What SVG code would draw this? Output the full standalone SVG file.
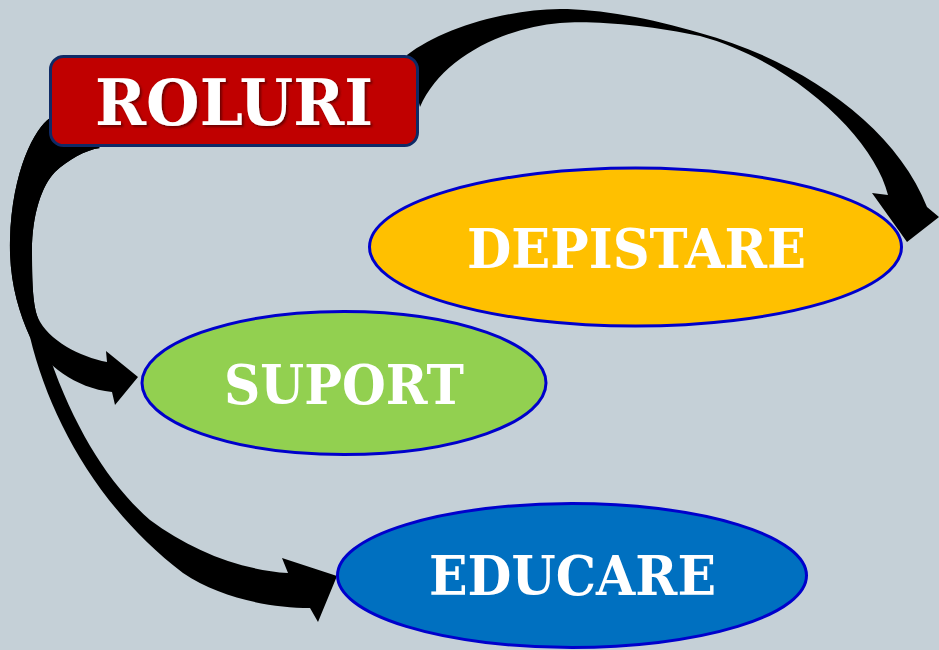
<svg xmlns="http://www.w3.org/2000/svg" width="939" height="650" viewBox="0 0 939 650">
<style>
.arrow{fill:#000000;stroke:none}
.ell{stroke:#0000CC;stroke-width:3}
.lbl{font-family:"DejaVu Serif","Liberation Serif",serif;font-weight:bold;fill:#FFFFFF;text-anchor:middle}
</style>
<defs>
<filter id="shadow" x="-10%" y="-20%" width="120%" height="150%">
<feDropShadow dx="2" dy="2" stdDeviation="1" flood-color="#3A0000" flood-opacity="0.6"/>
</filter>
</defs>
<rect x="0" y="0" width="939" height="650" fill="#C5D0D7"/>
<g id="connectors">
<path id="arrow-depistare" class="arrow" d="M407,55 C440,30 500,10 560,9 C600,9 650,18 700,33 C800,60 895,125 927,207 L939,217 L907,242 L872,193 L888,195 C875,140 795,62 700,36 C650,25 590,20 560,23 C500,28 440,60 420,107 Z"/>
<path id="arrow-suport" class="arrow" d="M50,118 C35,128 12,170 10,240 C9,280 18,310 30,337 C45,365 75,388 112,392 L115,405 L138,377 L106,351 L107,362 C80,357 48,340 38,318 C33,305 32,285 32,250 C32,215 42,185 55,172 C68,160 85,150 100,148 Z"/>
<path id="arrow-educare" class="arrow" d="M50,118 C35,128 12,170 10,240 C9,280 18,310 30,337 C50,420 100,510 183,573 C220,598 270,608 310,608 L318,622 L337,576 L282,558 L288,573 C240,570 190,550 150,520 C110,485 75,430 50,358 C45,345 40,330 38,318 C33,305 32,285 32,250 C32,215 42,185 55,172 C68,160 85,150 100,148 Z"/>
</g>
<g id="node-roluri">
<rect x="50.5" y="56.5" width="367" height="89" rx="13" ry="13" fill="#C00000" stroke="#0F2A66" stroke-width="3"/>
<text class="lbl" x="234" y="125" font-size="63" textLength="278" lengthAdjust="spacingAndGlyphs" filter="url(#shadow)">ROLURI</text>
</g>
<g id="node-depistare">
<ellipse class="ell" cx="635.5" cy="247" rx="266" ry="79" fill="#FFC000"/>
<text class="lbl" x="636.5" y="268" font-size="53.5" textLength="339" lengthAdjust="spacingAndGlyphs">DEPISTARE</text>
</g>
<g id="node-suport">
<ellipse class="ell" cx="344" cy="383" rx="202" ry="71.5" fill="#92D050"/>
<text class="lbl" x="344" y="404" font-size="53.5" textLength="240" lengthAdjust="spacingAndGlyphs">SUPORT</text>
</g>
<g id="node-educare">
<ellipse class="ell" cx="572" cy="575.5" rx="234.5" ry="72" fill="#0070C0"/>
<text class="lbl" x="572.5" y="595" font-size="53.5" textLength="287" lengthAdjust="spacingAndGlyphs">EDUCARE</text>
</g>
</svg>
